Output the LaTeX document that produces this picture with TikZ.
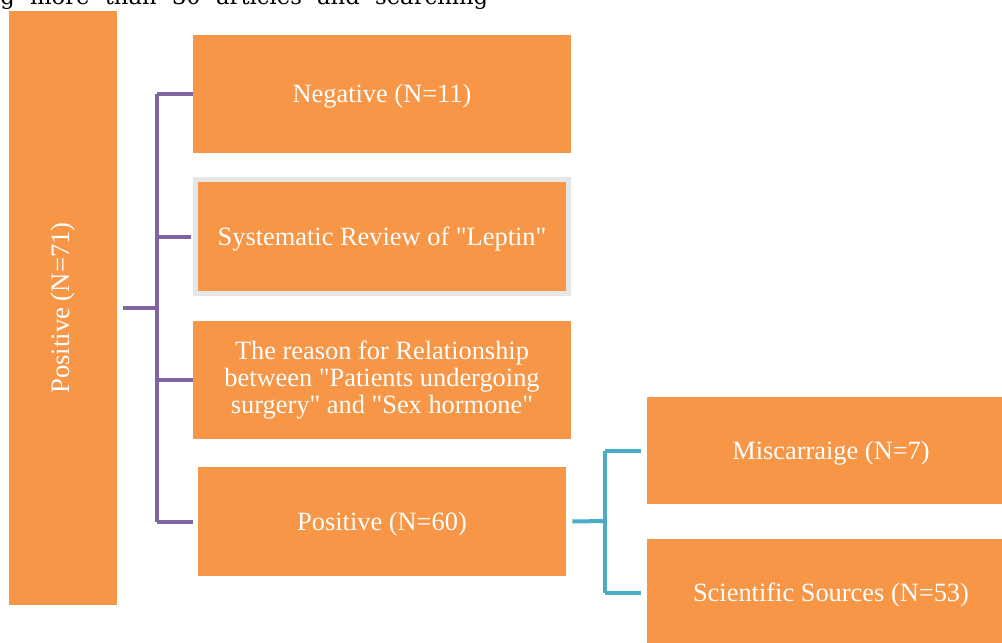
\documentclass[tikz,border=0pt]{standalone}
\usepackage{fontspec}
\setmainfont{Liberation Serif}
\newfontfamily\pageserif{DejaVu Serif}
\usetikzlibrary{calc}

\definecolor{boxorange}{HTML}{F79646}
\definecolor{linepurple}{HTML}{8064A2}
\definecolor{lineblue}{HTML}{4BACC6}
\definecolor{rimgray}{HTML}{E6E6E6}

\begin{document}
\begin{tikzpicture}[x=0.75pt, y=-0.75pt,
	box/.style={fill=boxorange, text=white, inner sep=0pt, align=center,
		font=\fontsize{19.8}{20.25}\selectfont},
	oneline/.style={text height=13pt, text depth=0pt},
	purplebus/.style={draw=linepurple, line width=3pt},
	bluebus/.style={draw=lineblue, line width=3pt}]
	\useasboundingbox (0,0) rectangle (1002,642);
	\clip (0,0) rectangle (1002,642);
	% text of the page above
	\node[anchor=base west, inner sep=0pt, font=\pageserif\fontsize{17}{17}\selectfont] (pagetext) at (0,5)
		{\makebox[366pt][s]{g more than 30 articles and searching}};
	% boxes
	\node[box, minimum width=81pt, minimum height=445.5pt] (pos71) at (63,308) {};
	\node[rotate=90, text=white, font=\fontsize{20}{20}\selectfont] (pos71text) at (63,308) {Positive (N=71)};
	\node[box, oneline, minimum width=283.5pt, minimum height=88.5pt] (neg) at (382,94) {Negative (N=11)};
	\node[box, oneline, draw=rimgray, line width=3.75pt, minimum width=279.75pt, minimum height=85.5pt] (review) at (382,236.5)
		{Systematic Review of \textquotedbl Leptin\textquotedbl};
	\node[box, minimum width=283.5pt, minimum height=88.5pt] (reason) at (382,380)
		{The reason for Relationship\\between \textquotedbl Patients undergoing\\surgery\textquotedbl{} and \textquotedbl Sex hormone\textquotedbl};
	\node[box, oneline, minimum width=276pt, minimum height=81.75pt] (pos60) at (382,521.5) {Positive (N=60)};
	\node[box, oneline, minimum width=276pt, minimum height=80.25pt] (misc) at (831,450.5) {Miscarraige (N=7)};
	\node[box, oneline, minimum width=276pt, minimum height=80.25pt] (sci) at (831,592.5) {Scientific Sources (N=53)};
	% purple bracket
	\coordinate (pbus) at (157,308);
	\draw[purplebus] ($(pos71.east)+(6,0)$) -- (pbus);
	\draw[purplebus] (pbus |- neg.west) -- (pbus |- pos60.west);
	\draw[purplebus] (pbus |- neg.west) -- (neg.west);
	\draw[purplebus] (pbus |- review.west) -- ($(review.west)+(-2.5,0)$);
	\draw[purplebus] (pbus |- reason.west) -- (reason.west);
	\draw[purplebus] (pbus |- pos60.west) -- ($(pos60.west)+(-5,0)$);
	% blue bracket
	\coordinate (bbus) at (605,521);
	\draw[bluebus] ($(pos60.east)+(6,0)$) -- (bbus);
	\draw[bluebus] (bbus |- misc.west) -- (bbus |- sci.west);
	\draw[bluebus] (bbus |- misc.west) -- ($(misc.west)+(-6,0)$);
	\draw[bluebus] (bbus |- sci.west) -- ($(sci.west)+(-6,0)$);
\end{tikzpicture}
\end{document}
